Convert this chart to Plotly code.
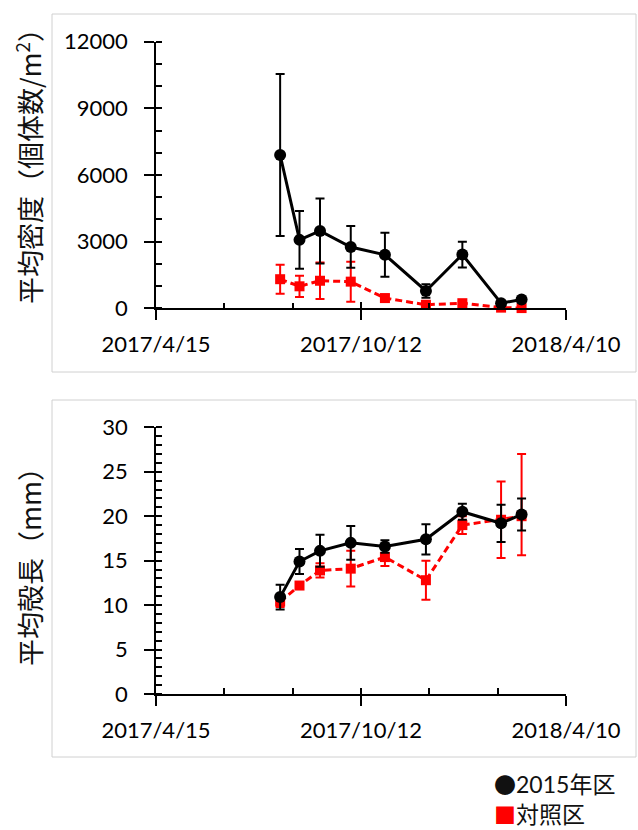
import pandas as pd
import plotly.graph_objects as go

# ---- data -------------------------------------------------------------
dates = ["2017-08-02", "2017-08-19", "2017-09-06", "2017-10-03", "2017-11-02",
         "2017-12-08", "2018-01-09", "2018-02-12", "2018-03-02"]

# mean density (individuals / m2)
density_2015 = [6900, 3080, 3480, 2760, 2410, 780, 2420, 230, 400]
density_2015_err = [3650, 1300, 1460, 940, 990, 300, 580, 60, 100]
density_ctrl = [1310, 990, 1240, 1200, 460, 160, 230, 30, 10]
density_ctrl_err = [650, 480, 820, 900, 150, 60, 60, 20, 10]

# mean shell length (mm)
length_2015 = [10.9, 14.9, 16.1, 17.0, 16.6, 17.4, 20.5, 19.2, 20.2]
length_2015_err = [1.4, 1.4, 1.8, 1.9, 0.7, 1.7, 0.9, 2.1, 1.8]
length_ctrl = [10.4, 12.2, 13.9, 14.1, 15.4, 12.8, 19.0, 19.6, 20.0]
length_ctrl_err_plus = [0.6, 0.4, 0.8, 2.0, 1.0, 2.2, 1.0, 4.3, 7.0]
length_ctrl_err_minus = [0.6, 0.4, 0.8, 2.0, 1.0, 2.2, 1.0, 4.3, 4.4]

x_major = ["2017-04-15", "2017-10-12", "2018-04-10"]
x_major_text = ["2017/4/15", "2017/10/12", "2018/4/10"]
density_ticks = [0, 3000, 6000, 9000, 12000]
length_ticks = [0, 5, 10, 15, 20, 25, 30]

series_names = ["2015年区", "対照区"]

# ---- layout helpers ----------------------------------------------------
W, H = 638, 830


def fx(p):
    return p / W


def fy(p):
    return 1 - p / H


# minor date ticks: two between each pair of major ticks
_maj = pd.to_datetime(x_major)
x_minor = []
for a, b in zip(_maj[:-1], _maj[1:]):
    step = (b - a) / 3
    x_minor += [(a + step).strftime("%Y-%m-%d"), (a + 2 * step).strftime("%Y-%m-%d")]

LABEL_FONT = dict(family="Lato, 'Noto Sans CJK JP', sans-serif", size=22, color="#000000")
TITLE_FONT = dict(family="'Noto Sans CJK JP', sans-serif", size=27, color="#111111")
INK = "#000000"
RED = "#ff0000"

x_dom = [fx(156), fx(566)]
top_dom = [fy(308.3), fy(41.7)]
bot_dom = [fy(694), fy(427.3)]

fig = go.Figure()


def add_series(xa, ya, y, err, color, symbol, size, dash, err_minus=None):
    ed = dict(type="data", array=err, color=color, thickness=2, width=4.5, visible=True)
    if err_minus is not None:
        ed["symmetric"] = False
        ed["arrayminus"] = err_minus
    fig.add_trace(go.Scatter(
        x=dates, y=y, xaxis=xa, yaxis=ya, mode="lines+markers",
        line=dict(color=color, width=3, dash=dash),
        marker=dict(color=color, symbol=symbol, size=size),
        error_y=ed, cliponaxis=False, showlegend=False, hoverinfo="skip"))


# density panel (control first so the 2015 series sits on top)
add_series("x", "y", density_ctrl, density_ctrl_err, RED, "square", 10, "7px,4px")
add_series("x", "y", density_2015, density_2015_err, INK, "circle", 12, "solid")
# shell length panel
add_series("x2", "y2", length_ctrl, length_ctrl_err_plus, RED, "square", 10, "7px,4px",
           err_minus=length_ctrl_err_minus)
add_series("x2", "y2", length_2015, length_2015_err, INK, "circle", 12, "solid")

# invisible carriers for the overlay axes that draw the inner half of major ticks
for xa, ya in [("x3", "y"), ("x", "y3"), ("x4", "y2"), ("x2", "y4")]:
    fig.add_trace(go.Scatter(x=[x_major[0]], y=[0], xaxis=xa, yaxis=ya, mode="markers",
                             marker=dict(opacity=0), showlegend=False, hoverinfo="skip"))

common = dict(showgrid=False, zeroline=False, tickcolor=INK, tickwidth=1.5,
              tickfont=LABEL_FONT, automargin=False)


def x_axis(anchor):
    return dict(common, type="date", domain=x_dom, anchor=anchor,
                range=[x_major[0], x_major[-1]], tickmode="array",
                tickvals=x_major, ticktext=x_major_text, ticks="outside", ticklen=10,
                ticklabelstandoff=6, showline=True, linecolor=INK, linewidth=1.5,
                minor=dict(tickmode="array", tickvals=x_minor, ticks="inside",
                           ticklen=6, tickcolor=INK, tickwidth=1.5))


def y_axis(anchor, dom, rng, ticks, minor_step):
    return dict(common, domain=dom, anchor=anchor, range=rng, tickmode="array",
                tickvals=ticks, ticktext=[str(t) for t in ticks],
                ticks="outside", ticklen=10, ticklabelstandoff=12,
                showline=True, linecolor=INK, linewidth=1.5,
                minor=dict(tick0=0, dtick=minor_step, ticks="inside", ticklen=6,
                           tickcolor=INK, tickwidth=1.5))


def x_overlay(base, anchor):
    return dict(type="date", overlaying=base, anchor=anchor, range=[x_major[0], x_major[-1]],
                tickmode="array", tickvals=x_major, ticks="inside", ticklen=6,
                tickcolor=INK, tickwidth=1.5, showticklabels=False, showline=False,
                showgrid=False, zeroline=False, automargin=False)


def y_overlay(base, anchor, rng, ticks):
    return dict(overlaying=base, anchor=anchor, range=rng, tickmode="array",
                tickvals=ticks, ticks="inside", ticklen=6, tickcolor=INK, tickwidth=1.5,
                showticklabels=False, showline=False, showgrid=False, zeroline=False,
                automargin=False)


fig.update_layout(
    width=W, height=H, margin=dict(l=0, r=0, t=0, b=0, pad=0, autoexpand=False),
    paper_bgcolor="white", plot_bgcolor="rgba(0,0,0,0)", showlegend=False,
    xaxis=x_axis("y"),
    yaxis=y_axis("x", top_dom, [0, 12000], density_ticks, 1000),
    xaxis2=x_axis("y2"),
    yaxis2=y_axis("x2", bot_dom, [0, 30], length_ticks, 1),
    xaxis3=x_overlay("x", "y"),
    yaxis3=y_overlay("y", "x", [0, 12000], density_ticks),
    xaxis4=x_overlay("x2", "y2"),
    yaxis4=y_overlay("y2", "x2", [0, 30], length_ticks),
)

# panel frames
for top, bottom in [(14, 372), (400, 757)]:
    fig.add_shape(type="rect", xref="paper", yref="paper",
                  x0=fx(52), x1=fx(636), y0=fy(bottom), y1=fy(top),
                  line=dict(color="#d0d0d0", width=1), fillcolor="rgba(0,0,0,0)", layer="below")

# axis titles
fig.add_annotation(text="平均密度（個体数/m<sup>2</sup>）", x=fx(29), y=fy(160),
                   xref="paper", yref="paper", textangle=-90, showarrow=False,
                   xanchor="center", yanchor="middle", font=TITLE_FONT)
fig.add_annotation(text="平均殻長（mm）", x=fx(29), y=fy(560),
                   xref="paper", yref="paper", textangle=-90, showarrow=False,
                   xanchor="center", yanchor="middle", font=TITLE_FONT)

# key: symbol glyphs followed by the series names, two lines in one box
SYM = "font-family:Noto Sans CJK JP;font-size:22px"
key_text = (f"<span style='{SYM}'>●</span>{series_names[0]}<br>"
            f"<span style='{SYM};color:{RED}'>■</span>{series_names[1]}")
fig.add_annotation(text=key_text, x=fx(493), y=fy(798), xref="paper", yref="paper",
                   showarrow=False, xanchor="left", yanchor="middle", align="left",
                   borderpad=0,
                   font=dict(family="Lato, 'Noto Sans CJK JP', sans-serif", size=23,
                             color="#111111"))

fig.write_html("out.html")
